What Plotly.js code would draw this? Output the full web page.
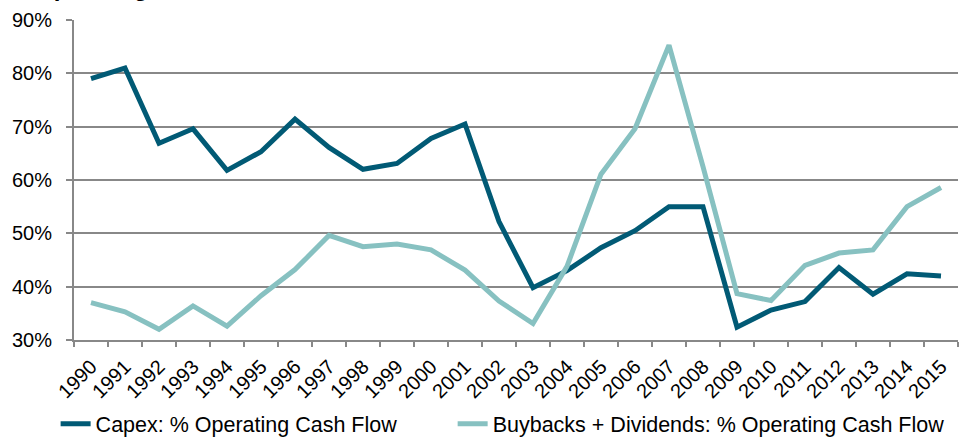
<!DOCTYPE html>
<html>
<head>
<meta charset="utf-8">
<script src="https://cdn.plot.ly/plotly-3.0.1.min.js"></script>
<style>html,body{margin:0;padding:0;background:#fff;}#chart{width:959px;height:437px;}</style>
</head>
<body>
<div id="chart"></div>
<script>
const years = ["1990","1991","1992","1993","1994","1995","1996","1997","1998","1999","2000","2001","2002","2003","2004","2005","2006","2007","2008","2009","2010","2011","2012","2013","2014","2015"];
const capexPct = [79.0,81.0,66.9,69.6,61.8,65.3,71.4,66.1,62.0,63.1,67.8,70.5,52.2,39.8,43.0,47.3,50.5,55.0,55.0,32.4,35.6,37.2,43.6,38.6,42.4,42.0];
const buybackDivPct = [37.0,35.3,32.0,36.4,32.6,38.3,43.2,49.6,47.5,48.0,46.9,43.1,37.3,33.1,43.8,61.1,69.6,85.3,62.5,38.7,37.4,44.0,46.3,46.9,55.0,58.6];
const seriesNames = ["Capex: % Operating Cash Flow","Buybacks + Dividends: % Operating Cash Flow"];
const titleText = "% Operating Cash Flow";

const FONT = "'Liberation Sans', Arial, sans-serif";
const traces = [
  {x: years, y: capexPct, name: seriesNames[0], type: "scatter", mode: "lines",
   line: {color: "#015a75", width: 5}, legend: "legend"},
  {x: years, y: buybackDivPct, name: seriesNames[1], type: "scatter", mode: "lines",
   line: {color: "#87c1c1", width: 5}, legend: "legend2"}
];
const legendBase = {orientation: "h", xref: "container", yref: "container", y: 0.03,
  xanchor: "left", yanchor: "middle", font: {family: FONT, size: 21.5, color: "#000"},
  bgcolor: "rgba(0,0,0,0)"};
const layout = {
  width: 959, height: 437,
  margin: {l: 74, r: 1, t: 20, b: 97},
  paper_bgcolor: "#fff", plot_bgcolor: "#fff",
  font: {family: FONT, size: 20, color: "#000"},
  showlegend: true,
  legend: Object.assign({}, legendBase, {x: 0.058}),
  legend2: Object.assign({}, legendBase, {x: 0.472}),
  xaxis: {type: "category", range: [-0.5, 25.5], tickson: "boundaries", ticks: "outside",
          ticklen: 5, tickwidth: 2, tickcolor: "#888", showline: true, linecolor: "#888", linewidth: 2,
          showgrid: false, tickangle: -45, ticklabelstandoff: 5,
          tickfont: {family: FONT, size: 20, color: "#000"}, fixedrange: true},
  yaxis: {range: [30, 90], dtick: 10, ticksuffix: "%", ticks: "outside", ticklen: 6,
          tickwidth: 2, tickcolor: "#888", showline: true, linecolor: "#888", linewidth: 2,
          showgrid: true, gridcolor: "#888", gridwidth: 2, zeroline: false,
          ticklabelstandoff: 10, tickfont: {family: FONT, size: 20, color: "#000"}, fixedrange: true},
  annotations: [{text: "<b>" + titleText + "</b>", xref: "paper", yref: "paper",
                 x: -0.078, y: 1.103, xanchor: "left", yanchor: "middle", showarrow: false,
                 font: {family: FONT, size: 24, color: "#000"}}]
};
Plotly.newPlot("chart", traces, layout, {displayModeBar: false, staticPlot: true});
</script>
</body>
</html>
